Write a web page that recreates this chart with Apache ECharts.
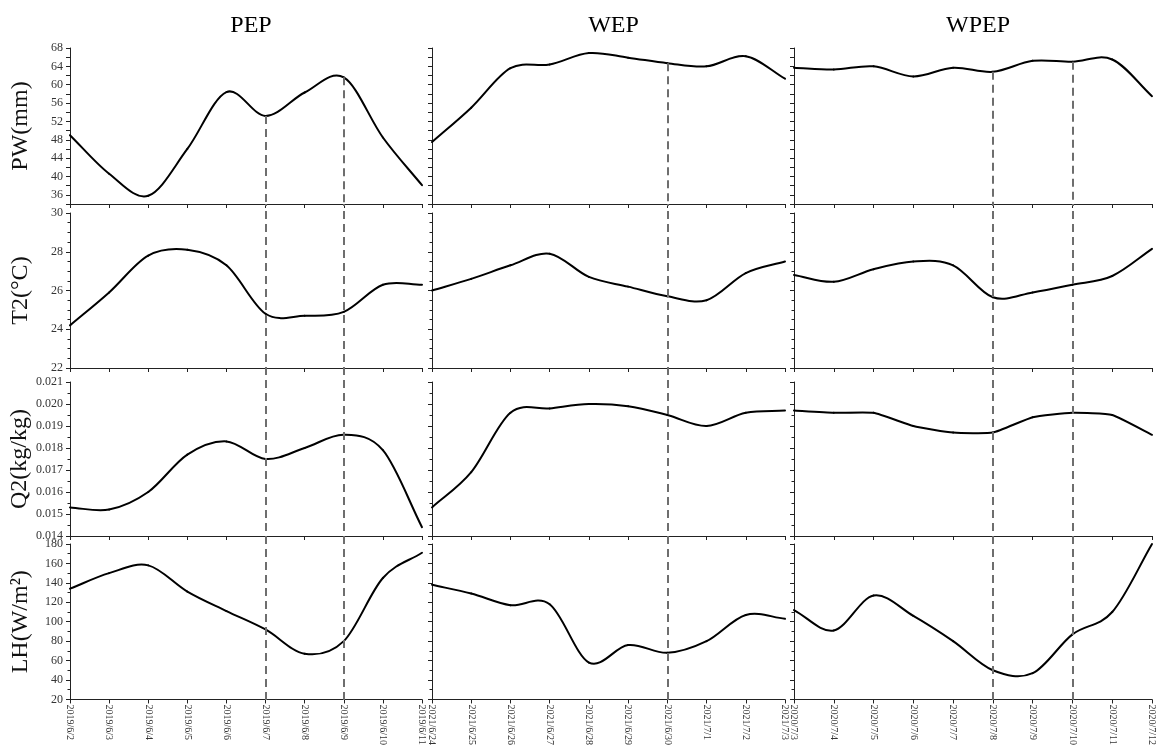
<!DOCTYPE html>
<html>
<head>
<meta charset="utf-8">
<script src="https://cdn.jsdelivr.net/npm/echarts@6/dist/echarts.min.js"></script>
<style>html,body{margin:0;padding:0;background:#fff}#c{width:1159px;height:748px}</style>
</head>
<body>
<div id="c"></div>
<script>
// ---- data ----
const pepDates  = ['2019/6/2','2019/6/3','2019/6/4','2019/6/5','2019/6/6','2019/6/7','2019/6/8','2019/6/9','2019/6/10','2019/6/11'];
const wepDates  = ['2021/6/24','2021/6/25','2021/6/26','2021/6/27','2021/6/28','2021/6/29','2021/6/30','2021/7/1','2021/7/2','2021/7/3'];
const wpepDates = ['2020/7/3','2020/7/4','2020/7/5','2020/7/6','2020/7/7','2020/7/8','2020/7/9','2020/7/10','2020/7/11','2020/7/12'];

const pepPW  = [49.0, 40.6, 35.8, 46.0, 58.4, 53.2, 58.3, 61.6, 48.5, 38.1];
const wepPW  = [47.5, 55.0, 63.6, 64.4, 66.9, 65.9, 64.7, 64.0, 66.2, 61.3];
const wpepPW = [63.7, 63.3, 64.0, 61.8, 63.7, 62.8, 65.2, 65.0, 65.5, 57.5];

const pepT2  = [24.2, 25.9, 27.8, 28.1, 27.3, 24.8, 24.7, 24.9, 26.3, 26.3];
const wepT2  = [26.0, 26.6, 27.3, 27.9, 26.7, 26.2, 25.7, 25.5, 26.9, 27.5];
const wpepT2 = [26.8, 26.45, 27.1, 27.5, 27.3, 25.65, 25.9, 26.3, 26.75, 28.15];

const pepQ2  = [0.0153, 0.0152, 0.0160, 0.0177, 0.0183, 0.0175, 0.0180, 0.0186, 0.0179, 0.0144];
const wepQ2  = [0.0153, 0.0169, 0.0196, 0.0198, 0.0200, 0.0199, 0.0195, 0.0190, 0.0196, 0.0197];
const wpepQ2 = [0.0197, 0.0196, 0.0196, 0.0190, 0.0187, 0.0187, 0.0194, 0.0196, 0.0195, 0.0186];

const pepLH  = [134, 150, 158, 131, 111, 92, 67, 80, 145, 171];
const wepLH  = [138, 129, 117, 118, 58, 76, 68, 80, 107, 103];
const wpepLH = [112, 91, 127, 106, 80, 50, 47, 87, 110, 180];

const pepMarks  = ['2019/6/7', '2019/6/9'];
const wepMarks  = ['2021/6/30'];
const wpepMarks = ['2020/7/8', '2020/7/10'];

const colTitles = ['PEP', 'WEP', 'WPEP'];
const rowNames  = ['PW(mm)', 'T2(°C)', 'Q2(kg/kg)', 'LH(W/m²)'];

// ---- layout / style ----
const colLeft  = [70, 432, 794];
const colWidth = [352, 353, 358];
const rowTop    = [48, 213, 382, 544];
const rowHeight = [156, 155, 154, 156];
const FONT = 'Liberation Serif';
const AX = '#222';

const cols = [
  {dates: pepDates,  rows: [pepPW, pepT2, pepQ2, pepLH],     marks: pepMarks},
  {dates: wepDates,  rows: [wepPW, wepT2, wepQ2, wepLH],     marks: wepMarks},
  {dates: wpepDates, rows: [wpepPW, wpepT2, wpepQ2, wpepLH], marks: wpepMarks}
];

const rowAxis = [
  {min: 34, max: 68, interval: 2, minor: 0, fmt: v => ((Math.round(v) - 36) % 4 === 0 ? String(Math.round(v)) : '')},
  {min: 22, max: 30, interval: 2, minor: 4, fmt: v => String(Math.round(v))},
  {min: 0.014, max: 0.021, interval: 0.001, minor: 2, fmt: v => v.toFixed(3)},
  {min: 20, max: 180, interval: 20, minor: 2, fmt: v => String(Math.round(v))}
];

const dashStyle = {type: [8, 5], color: '#6e6e6e', width: 2};

// spline renderer: draws the segment from point i to i+1 as a cubic (Catmull-Rom) through the data,
// using the axis scales (api.coord) for every position.
function splineItem(vals, tension) {
  return function (params, api) {
    const i = params.dataIndex, n = vals.length;
    if (i >= n - 1) return null;
    const P = j => api.coord([j, vals[j]]);
    const p1 = P(i), p2 = P(i + 1);
    const p0 = i > 0 ? P(i - 1) : [2 * p1[0] - p2[0], 2 * p1[1] - p2[1]];
    const p3 = i + 2 < n ? P(i + 2) : [2 * p2[0] - p1[0], 2 * p2[1] - p1[1]];
    const k = tension / 6;
    return {
      type: 'bezierCurve',
      shape: {
        x1: p1[0], y1: p1[1], x2: p2[0], y2: p2[1],
        cpx1: p1[0] + (p2[0] - p0[0]) * k, cpy1: p1[1] + (p2[1] - p0[1]) * k,
        cpx2: p2[0] - (p3[0] - p1[0]) * k, cpy2: p2[1] - (p3[1] - p1[1]) * k
      },
      style: {stroke: '#000', lineWidth: 2, fill: null, lineCap: 'round'},
      silent: true
    };
  };
}

const grid = [], xAxis = [], yAxis = [], series = [], title = [];

cols.forEach((col, c) => {
  title.push({
    text: colTitles[c], left: colLeft[c] + colWidth[c] / 2, top: 9, textAlign: 'center',
    textStyle: {fontFamily: FONT, fontSize: 24, fontWeight: 'normal', color: '#000'}
  });
  col.rows.forEach((vals, r) => {
    const gi = grid.length;
    const ra = rowAxis[r];
    grid.push({left: colLeft[c], width: colWidth[c], top: rowTop[r], height: rowHeight[r], containLabel: false});
    xAxis.push({
      type: 'category', gridIndex: gi, data: col.dates, boundaryGap: false,
      axisLine: {show: true, lineStyle: {color: AX, width: 1}},
      axisTick: {show: true, interval: 0, length: 4, lineStyle: {color: AX}},
      axisLabel: {show: r === 3, interval: 0, rotate: -90, margin: 5, fontFamily: FONT, fontSize: 10, color: '#333'},
      splitLine: {show: false}
    });
    yAxis.push({
      type: 'value', gridIndex: gi, min: ra.min, max: ra.max, interval: ra.interval,
      axisLine: {show: true, lineStyle: {color: AX, width: 1}},
      axisTick: {show: true, length: 4, lineStyle: {color: AX}},
      minorTick: {show: ra.minor > 0, splitNumber: ra.minor || 5, length: 2.5, lineStyle: {color: AX}},
      axisLabel: {show: c === 0, formatter: ra.fmt, margin: 7, fontFamily: FONT, fontSize: 12, color: '#333'},
      splitLine: {show: false},
      name: c === 0 ? rowNames[r] : '', nameLocation: 'middle', nameGap: 37, nameRotate: 90,
      nameTextStyle: {fontFamily: FONT, fontSize: 24, color: '#111'}
    });
    const tension = (c === 2 && r === 2) ? 0.45 : 1;
    series.push({
      type: 'custom', xAxisIndex: gi, yAxisIndex: gi,
      data: vals.map((v, i) => [i, v]), encode: {x: 0, y: 1},
      renderItem: splineItem(vals, tension), silent: true
    });
    if (r === 0) {
      series.push({
        type: 'line', xAxisIndex: gi, yAxisIndex: gi, data: vals, symbol: 'none', silent: true,
        lineStyle: {opacity: 0},
        markLine: {
          symbol: 'none', silent: true, label: {show: false}, lineStyle: dashStyle,
          data: col.marks.map(m => {
            const i = col.dates.indexOf(m);
            return [{coord: [i, vals[i]]}, {coord: [i, ra.min]}];
          })
        }
      });
    }
  });
});

// overlay grids for dashed lines running through rows 2-4 (and the gaps between them)
cols.forEach((col, c) => {
  const gi = grid.length;
  grid.push({left: colLeft[c], width: colWidth[c], top: rowTop[0] + rowHeight[0], bottom: 748 - (rowTop[3] + rowHeight[3]), containLabel: false});
  xAxis.push({type: 'category', gridIndex: gi, data: col.dates, boundaryGap: false, show: false});
  yAxis.push({type: 'value', gridIndex: gi, min: 0, max: 1, show: false});
  series.push({
    type: 'line', xAxisIndex: gi, yAxisIndex: gi, data: col.dates.map(() => null), symbol: 'none', silent: true,
    markLine: {
      symbol: 'none', silent: true, label: {show: false}, lineStyle: dashStyle,
      data: col.marks.map(m => ({xAxis: col.dates.indexOf(m)}))
    }
  });
});

const chart = echarts.init(document.getElementById('c'), null, {renderer: 'canvas'});
chart.setOption({animation: false, backgroundColor: '#fff', title, grid, xAxis, yAxis, series});
</script>
</body>
</html>
